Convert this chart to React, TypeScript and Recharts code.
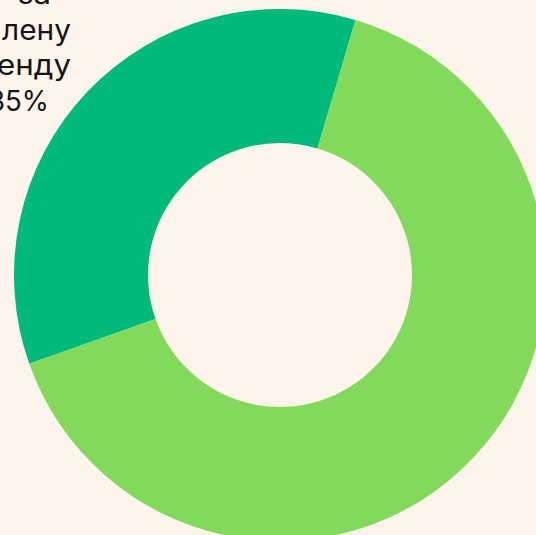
import React from 'react';
import { PieChart, Pie, Cell } from 'recharts';

// shares of the donut
const categories = ['за оренду', 'інше'];
const shares = [35, 65];
// label lines as far as the picture shows them (it is cropped on the left)
const labelLines = ['за', 'лену', 'оренду', '35%'];

const colors = ['#02b97c', '#82d95b'];

const data = categories.map((name, i) => ({ name, value: shares[i] }));

// where each label line sits and how wide it runs
const lineX = [18, 2, -41, -12];
const lineY = [4, 40, 75, 111];
const lineLen = [33, 69, 112, 61];

const App: React.FC = () => {
  return (
    <div style={{ position: 'fixed', top: 0, left: 0, width: 536, height: 535, background: '#fdf4eb' }}>
      <PieChart width={536} height={535} margin={{ top: 0, right: 0, bottom: 0, left: 0 }}>
        <Pie
          data={data}
          dataKey="value"
          nameKey="name"
          cx={280}
          cy={275}
          innerRadius={132}
          outerRadius={266}
          startAngle={73.5}
          endAngle={433.5}
          stroke="none"
          isAnimationActive={false}
        >
          {data.map((d, idx) => (
            <Cell key={d.name} fill={colors[idx]} />
          ))}
        </Pie>
        {labelLines.map((t, i) => (
          <text
            key={t}
            x={lineX[i]}
            y={lineY[i]}
            textLength={lineLen[i]}
            lengthAdjust="spacingAndGlyphs"
            fontFamily="Inter, sans-serif"
            fontSize={28}
            fill="#161616"
          >
            {t}
          </text>
        ))}
      </PieChart>
    </div>
  );
};

export default App;
